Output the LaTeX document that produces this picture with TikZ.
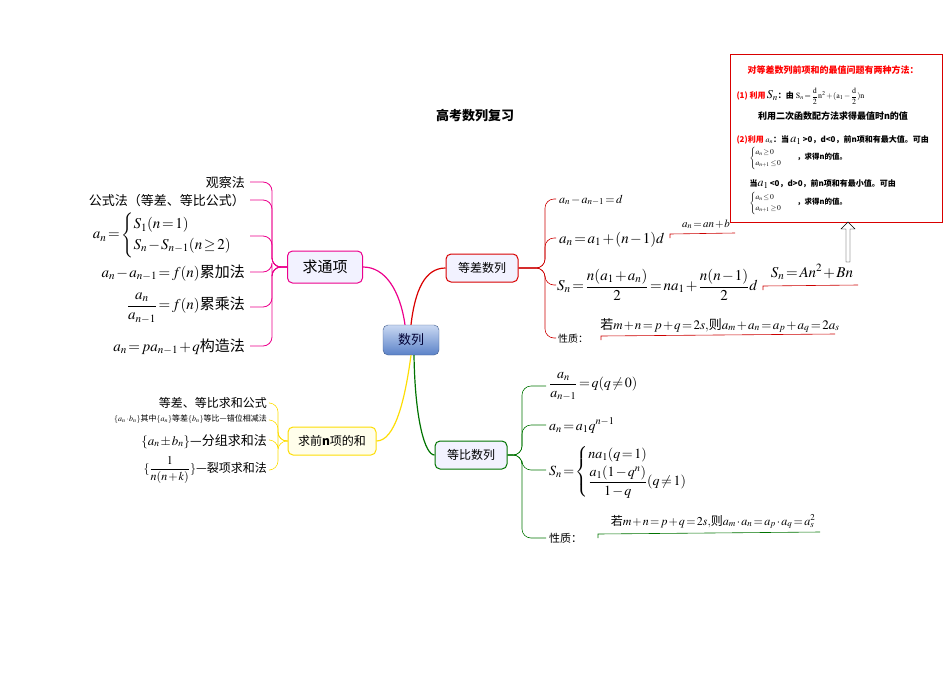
\documentclass[tikz,border=0pt]{standalone}
\usepackage{amsmath}
\usepackage{mathptmx}
\usepackage{fontspec}
\setmainfont{Noto Sans CJK SC}
\usetikzlibrary{arrows.meta,shapes.arrows}
\definecolor{ctop}{HTML}{C9D8F2}
\definecolor{cbot}{HTML}{5B82C8}
\thickmuskip=2mu plus 1mu
\medmuskip=1.5mu plus 1mu
\tikzset{
 mnode/.style={rounded corners=5pt,draw,line width=1pt,fill=blue!5,minimum height=28pt,inner xsep=8pt,font=\fontsize{12}{14}\selectfont},
 br/.style={line width=0.8pt,rounded corners=9pt},
 lf/.style={inner sep=1pt,font=\fontsize{13}{15}\selectfont},
 ul/.style={line width=0.6pt}
}
\begin{document}
\begin{tikzpicture}[x=1pt,y=-1pt]
\useasboundingbox (0,0) rectangle (950,672);
\node[font=\fontsize{13}{15}\selectfont\bfseries] (title) at (475,116) {高考数列复习};
% central
\node[rounded corners=5pt,draw=cbot!70!black,top color=ctop,bottom color=cbot,minimum width=56pt,minimum height=30pt,font=\fontsize{13}{15}\selectfont,text=blue!20!black] (c) at (411,340) {数列};
\node[mnode,draw=magenta,minimum width=75pt,minimum height=32pt,font=\fontsize{15}{17}\selectfont] (t) at (325,267) {求通项};
\node[mnode,draw=red!85!black,minimum width=72pt] (d) at (482,268) {等差数列};
\node[mnode,draw=yellow!80!orange,fill=yellow!8,minimum width=88pt] (s) at (332,441) {求前\textbf{n}项的和};
\node[mnode,draw=green!45!black,minimum width=72pt] (g) at (471,455) {等比数列};
\draw[magenta,line width=1.2pt] (c.north) ++(-6,0) coordinate (c1) (c1) .. controls (400,290) and (385,267) .. (t.east);
\draw[red!85!black,line width=1.2pt] (c.north) .. controls (415,290) and (425,268) .. (d.west);
\draw[yellow!80!orange,line width=1.2pt] (c.south) .. controls (405,400) and (395,441) .. (s.east);
\draw[green!45!black,line width=1.2pt] (c.south) ++(3,0) coordinate (c2) (c2) .. controls (415,420) and (425,455) .. (g.west);
% left leaves of 求通项
\node[lf,anchor=base east] (l1) at (246,187) {观察法};
\node[lf,anchor=base east] (l2) at (246,205) {公式法（等差、等比公式）};
\node[lf,anchor=east,font=\fontsize{15}{17}\selectfont] (l3) at (248,235) {$a_n=\begin{cases}S_1(n=1)\\ S_n-S_{n-1}(n\ge 2)\end{cases}$};
\node[lf,anchor=base east,font=\fontsize{15}{17}\selectfont] (l4) at (246,277) {$a_n-a_{n-1}=f(n)$累加法};
\node[lf,anchor=east,font=\fontsize{15}{17}\selectfont] (l5) at (246,308) {$\dfrac{a_n}{a_{n-1}}=f(n)$累乘法};
\node[lf,anchor=base east,font=\fontsize{15}{17}\selectfont] (l6) at (246,351) {$a_n=pa_{n-1}+q$构造法};
\foreach \y/\n in {182/1,200/2,236/3,272/4,307/5,346/6}{
  \coordinate (tl\n) at (250,\y);
  \draw[br,magenta] (t.west) -- (272,267) -- (272,\y) -- (tl\n);
}
% 等差 leaves
\node[lf,anchor=base west,font=\fontsize{12}{14}\selectfont] (d1) at (558,203) {$a_n-a_{n-1}=d$};
\node[lf,anchor=base west,font=\fontsize{15}{17}\selectfont] (d2) at (558,243) {$a_n=a_1+(n-1)d$};
\node[lf,anchor=west,font=\fontsize{15}{17}\selectfont] (d3) at (556,285) {$S_n=\dfrac{n(a_1+a_n)}{2}=na_1+\dfrac{n(n-1)}{2}d$};
\node[lf,anchor=base west,font=\fontsize{10}{12}\selectfont] (d4) at (557,342) {性质：};
\foreach \y/\n in {199/1,238/2,285/3,338/4}{
  \coordinate (dl\n) at (556,\y);
  \draw[br,red!80!black,line width=0.6pt] (d.east) -- (545,268) -- (545,\y) -- (dl\n);
}
\node[lf,anchor=base,font=\fontsize{11}{13}\selectfont] (e1) at (706,227) {$a_n=an+b$};
\coordinate (e1a) at (670,238); \coordinate (e1b) at (735,233);
\draw[ul,red!80!black] (e1a) -- ++(0,-4) -- (e1b);
\node[lf,anchor=base,font=\fontsize{15}{17}\selectfont] (e2) at (812,277) {$S_n=An^2+Bn$};
\coordinate (e2a) at (763,290); \coordinate (e2b) at (858,285);
\draw[ul,red!80!black] (e2a) -- ++(0,-4) -- (e2b);
\node[lf,anchor=base,font=\fontsize{13}{15}\selectfont] (e3) at (720,329) {若$m+n=p+q=2s,$则$a_m+a_n=a_p+a_q=2a_s$};
\coordinate (e3a) at (601,340); \coordinate (e3b) at (835,334);
\draw[ul,red!80!black] (e3a) -- ++(0,-4) -- (e3b);
% 求和 leaves
\node[lf,anchor=base east,font=\fontsize{12}{14}\selectfont] (s1) at (268,407) {等差、等比求和公式};
\node[lf,anchor=base east,font=\fontsize{8}{9}\selectfont] (s2) at (268,421) {$\{a_n\cdot b_n\}$其中$\{a_n\}$等差$\{b_n\}$等比—错位相减法};
\node[lf,anchor=base east,font=\fontsize{13}{15}\selectfont] (s3) at (268,445) {$\{a_n\pm b_n\}$—分组求和法};
\node[lf,anchor=east,font=\fontsize{12}{13}\selectfont] (s4) at (268,470) {$\{\dfrac{1}{n(n+k)}\}$—裂项求和法};
\foreach \y/\n in {403/1,420/2,440/3,470/4}{
  \coordinate (sl\n) at (270,\y);
  \draw[br,yellow!80!orange,line width=0.6pt] (s.west) -- (278,441) -- (278,\y) -- (sl\n);
}
% 等比 leaves
\node[lf,anchor=west,font=\fontsize{14}{15}\selectfont] (g1) at (548,386) {$\dfrac{a_n}{a_{n-1}}=q(q\ne 0)$};
\node[lf,anchor=base west,font=\fontsize{14}{15}\selectfont] (g2) at (548,430) {$a_n=a_1q^{n-1}$};
\node[lf,anchor=west,font=\fontsize{14}{15}\selectfont] (g3) at (548,472) {$S_n=\begin{cases}na_1(q=1)\\[2pt] \dfrac{a_1(1-q^n)}{1-q}(q\ne1)\end{cases}$};
\node[lf,anchor=base west,font=\fontsize{11}{13}\selectfont] (g4) at (548,542) {性质：};
\foreach \y/\n in {386/1,425/2,470/3,538/4}{
  \coordinate (gl\n) at (546,\y);
  \draw[br,green!45!black,line width=0.6pt] (g.east) -- (522,455) -- (522,\y) -- (gl\n);
}
\node[lf,anchor=base,font=\fontsize{12}{14}\selectfont] (h1) at (713,525) {若$m+n=p+q=2s,$则$a_m\cdot a_n=a_p\cdot a_q=a_s^2$};
\coordinate (h1a) at (598,538); \coordinate (h1b) at (820,532);
\draw[ul,green!45!black] (h1a) -- ++(0,-4) -- (h1b);
% box
\node[draw=red!85!black,line width=1.2pt,fill=white,minimum width=212pt,minimum height=168pt,anchor=north west] (box) at (730,54) {};
\node[font=\fontsize{9}{11}\selectfont\bfseries,text=red] (b1) at (833,70) {对等差数列前项和的最值问题有两种方法：};
\node[anchor=west,font=\fontsize{8}{10}\selectfont\bfseries] (b2) at (733,96) {\textcolor{red}{(1) 利用}\,{\large$S_n$}：由\ $\mathrm{S}_n=\dfrac{\mathrm d}{2}\mathrm n^2+(\mathrm a_1-\dfrac{\mathrm d}{2})\mathrm n$};
\node[font=\fontsize{9}{11}\selectfont\bfseries] (b3) at (833,116) {利用二次函数配方法求得最值时n的值};
\node[anchor=west,font=\fontsize{8}{10}\selectfont\bfseries] (b4) at (733,140) {\textcolor{red}{(2)利用}\ $a_n$：当{\large$\,a_1$}\,>0，d<0，前n项和有最大值。可由};
\node[anchor=west,font=\fontsize{7.5}{9}\selectfont\bfseries] (b5) at (746,158) {$\begin{cases}a_n\ge0\\ a_{n+1}\le0\end{cases}$\quad ，求得n的值。};
\node[anchor=west,font=\fontsize{8}{10}\selectfont\bfseries] (b6) at (746,184) {当{\large$a_1$}\,<0，d>0，前n项和有最小值。可由};
\node[anchor=west,font=\fontsize{7.5}{9}\selectfont\bfseries] (b7) at (746,203) {$\begin{cases}a_n\le0\\ a_{n+1}\ge0\end{cases}$\quad ，求得n的值。};
% arrow
\node[single arrow,draw,fill=white,shape border rotate=90,minimum height=40pt,minimum width=14pt,single arrow head extend=3pt,inner sep=1pt] (ar) at (848,243) {};
\end{tikzpicture}
\end{document}
